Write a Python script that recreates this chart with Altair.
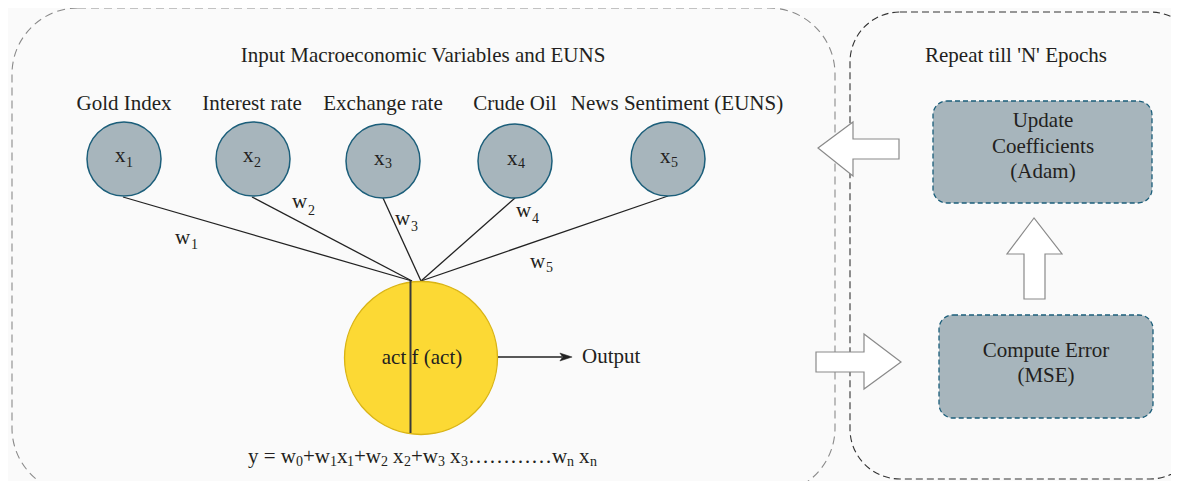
import altair as alt
import pandas as pd

# ---------------- data ----------------
node_names = ["Gold Index", "Interest rate", "Exchange rate", "Crude Oil", "News Sentiment (EUNS)"]
label_cx = [124, 252, 383, 515, 677]
label_y = [110, 110, 110, 110, 110]

node_cx = [124, 253, 383, 515, 668]
node_cy = [159, 159, 161, 161, 159]
node_sub = ["1", "2", "3", "4", "5"]
node_x_left = [115, 243, 374, 507, 660]
node_x_base = [162, 162, 165, 165, 163]
node_sub_left = [126, 254, 385, 518, 671]
node_sub_base = [167, 167, 168, 168, 167]

edge_x0 = [123, 252, 383, 515, 668]
edge_y0 = [197, 197, 198, 198, 196]
edge_x1 = [412, 412, 421, 421, 421]
edge_y1 = [281, 281, 281, 281, 281]

w_left = [175, 292, 395, 516, 530]
w_base = [244, 208, 225, 217, 268]
w_sub_left = [191, 308, 411, 532, 546]
w_sub_base = [249, 215, 231, 223, 272]

# yellow neuron
neuron_cx = [421]
neuron_cy = [358]
split_x = [410.5]
split_y0 = [281]
split_y1 = [433]

# formula pieces  y = w0+w1x1+w2 x2+w3 x3............wn xn
f_main_text = ["y = w", "+w", "x", "+w", "x", "+w", "x", "\u2026\u2026\u2026\u2026w", "x"]
f_main_left = [248, 303, 337, 354, 393, 411, 450, 468, 579]
f_sub_text = ["0", "1", "1", "2", "2", "3", "3", "n", "n"]
f_sub_left = [296, 330, 347, 381, 404, 438, 461, 567, 590]
f_main_base = 463
f_sub_base = 466

# containers
outer_names = ["inputs", "loop"]
outer_x0 = [12, 850]
outer_y0 = [8, 12]
outer_x1 = [835, 1200]
outer_y1 = [494, 479]

inner_names = ["Update Coefficients (Adam)", "Compute Error (MSE)"]
inner_x0 = [933, 939]
inner_y0 = [101, 315]
inner_x1 = [1152, 1153]
inner_y1 = [203, 418]

center_text = ["Input Macroeconomic Variables and EUNS", "Repeat till 'N' Epochs",
               "Update", "Coefficients", "(Adam)", "Compute Error", "(MSE)", "act f (act)"]
center_x = [423, 1016, 1043, 1043, 1043, 1046, 1046, 422]
center_y = [62, 62, 127, 153, 178, 357, 382, 364]

# block arrows (horizontal ones: x with y..y2)
harrow_id = ["back", "back", "back", "back", "fwd", "fwd", "fwd", "fwd"]
harrow_x = [818, 853, 853, 899, 816, 864, 864, 901]
harrow_y0 = [148, 122, 139, 139, 352, 352, 334, 362]
harrow_y1 = [148, 176, 159, 159, 372, 372, 389, 362]
# vertical block arrow (y with x..x2)
varrow_y = [218, 254, 254, 299]
varrow_x0 = [1034, 1007, 1024, 1024]
varrow_x1 = [1034, 1062, 1045, 1045]

# output arrow
out_x0 = [498]
out_x1 = [562]
out_y = [357]
out_head_x = [566]
out_label_x = [582]
out_label_y = [363]

# ---------------- scales ----------------
xs = alt.Scale(domain=[8, 1171], nice=False, zero=False)
ys = alt.Scale(domain=[8, 481], nice=False, zero=False, reverse=True)
FONT = "Liberation Serif, Times New Roman, serif"
TXT = "#231f20"


def X(f):
    return alt.X(f, type="quantitative", scale=xs, axis=None)


def Y(f):
    return alt.Y(f, type="quantitative", scale=ys, axis=None)


outer_df = pd.DataFrame({"name": outer_names, "x0": outer_x0, "y0": outer_y0, "x1": outer_x1, "y1": outer_y1})
inner_df = pd.DataFrame({"name": inner_names, "x0": inner_x0, "y0": inner_y0, "x1": inner_x1, "y1": inner_y1})

left_box = alt.Chart(outer_df[outer_df.name == "inputs"]).mark_rect(
    fillOpacity=0, stroke="#8a8a8a", strokeWidth=1.1, strokeDash=[8, 5], cornerRadius=66
).encode(x=X("x0"), x2="x1", y=Y("y0"), y2="y1")

right_box = alt.Chart(outer_df[outer_df.name == "loop"]).mark_rect(
    fillOpacity=0, stroke="#333333", strokeWidth=1.1, strokeDash=[7, 4], cornerRadius=50
).encode(x=X("x0"), x2="x1", y=Y("y0"), y2="y1")

inner_boxes = alt.Chart(inner_df).mark_rect(
    fill="#a7b5bc", stroke="#1b5e7a", strokeWidth=1.3, strokeDash=[5, 3], cornerRadius=14
).encode(x=X("x0"), x2="x1", y=Y("y0"), y2="y1")

edge_df = pd.DataFrame({"x0": edge_x0, "y0": edge_y0, "x1": edge_x1, "y1": edge_y1})
edges = alt.Chart(edge_df).mark_rule(color="#222222", strokeWidth=1.3).encode(
    x=X("x0"), y=Y("y0"), x2="x1", y2="y1")

neuron = alt.Chart(pd.DataFrame({"x": neuron_cx, "y": neuron_cy})).mark_circle(
    fill="#fcd934", stroke="#d9b415", strokeWidth=1.3, opacity=1, size=23400
).encode(x=X("x"), y=Y("y"))

split = alt.Chart(pd.DataFrame({"x": split_x, "y0": split_y0, "y1": split_y1})).mark_rule(
    color="#3a3a3a", strokeWidth=2
).encode(x=X("x"), y=Y("y0"), y2="y1")

node_df = pd.DataFrame({"x": node_cx, "y": node_cy})
nodes = alt.Chart(node_df).mark_circle(
    fill="#a7b5bc", stroke="#1b5e7a", strokeWidth=1.5, opacity=1, size=5476
).encode(x=X("x"), y=Y("y"))

h_df = pd.DataFrame({"id": harrow_id, "x": harrow_x, "y0": harrow_y0, "y1": harrow_y1})
harrows = alt.Chart(h_df).mark_area(
    fill="white", stroke="#8a8a8a", strokeWidth=1.2, orient="vertical", fillOpacity=1
).encode(x=X("x"), y=Y("y0"), y2="y1", detail="id:N")

v_df = pd.DataFrame({"y": varrow_y, "x0": varrow_x0, "x1": varrow_x1})
varrow = alt.Chart(v_df).mark_area(
    fill="white", stroke="#8a8a8a", strokeWidth=1.2, orient="horizontal", fillOpacity=1
).encode(y=Y("y"), x=X("x0"), x2="x1")

out_line = alt.Chart(pd.DataFrame({"x0": out_x0, "x1": out_x1, "y": out_y})).mark_rule(
    color="#222222", strokeWidth=1.4).encode(x=X("x0"), x2="x1", y=Y("y"))
out_head = alt.Chart(pd.DataFrame({"x": out_head_x, "y": out_y})).mark_point(
    shape="M1,0 L-1,-0.65 L-0.55,0 L-1,0.65 Z", filled=True, fill="#222222",
    stroke="#222222", strokeWidth=0.5, size=150, opacity=1
).encode(x=X("x"), y=Y("y"))

# texts
center_df = pd.DataFrame({"t": center_text + node_names,
                          "x": center_x + label_cx, "y": center_y + label_y})
center_txt = alt.Chart(center_df).mark_text(
    font=FONT, fontSize=21, color=TXT, align="center", baseline="alphabetic"
).encode(x=X("x"), y=Y("y"), text="t:N")

main_left_df = pd.DataFrame({
    "t": ["x"] * 5 + ["w"] * 5 + f_main_text + ["Output"],
    "x": node_x_left + w_left + f_main_left + out_label_x,
    "y": node_x_base + w_base + [f_main_base] * len(f_main_text) + out_label_y,
})
main_left = alt.Chart(main_left_df).mark_text(
    font=FONT, fontSize=21, color=TXT, align="left", baseline="alphabetic"
).encode(x=X("x"), y=Y("y"), text="t:N")

sub_df = pd.DataFrame({
    "t": node_sub + node_sub + f_sub_text,
    "x": node_sub_left + w_sub_left + f_sub_left,
    "y": node_sub_base + w_sub_base + [f_sub_base] * len(f_sub_text),
})
sub_txt = alt.Chart(sub_df).mark_text(
    font=FONT, fontSize=14, color=TXT, align="left", baseline="alphabetic"
).encode(x=X("x"), y=Y("y"), text="t:N")

chart = alt.layer(
    left_box, right_box, inner_boxes, edges, neuron, split, nodes,
    harrows, varrow, out_line, out_head,
    center_txt, main_left, sub_txt
).properties(
    width=1163, height=473, padding=0, background="#fafafa",
    autosize=alt.AutoSizeParams(type="none")
).configure_view(stroke=None).configure_text(font=FONT)

chart.save("out.html", embed_options={"renderer": "svg", "actions": False})
